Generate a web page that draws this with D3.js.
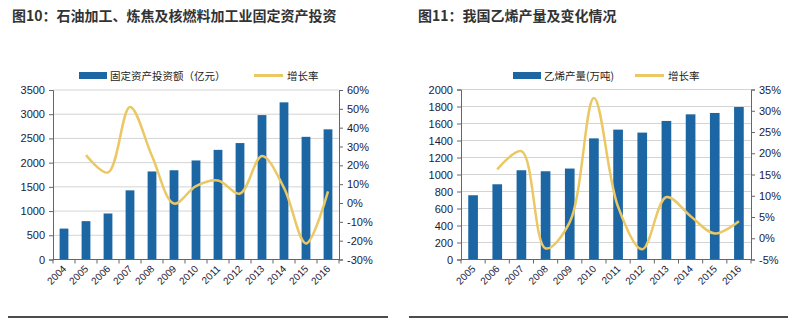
<!DOCTYPE html>
<html>
<head>
<meta charset="utf-8">
<script src="https://cdn.jsdelivr.net/npm/d3@7"></script>
<style>
  body { margin: 0; background: #fff; }
  svg { display: block; }
  text { font-family: "Liberation Sans", Arial, sans-serif; }
  .cjk { font-family: "Noto Sans CJK SC", sans-serif; }
</style>
</head>
<body>
<svg width="800" height="322"></svg>
<script>

// chart 10 - investment
var years10 = ["2004","2005","2006","2007","2008","2009","2010","2011","2012","2013","2014","2015","2016"]
var invest10 = [638, 792, 950, 1428, 1818, 1843, 2045, 2264, 2404, 2982, 3245, 2533, 2688]
var growth10 = [null, 25.4, 16.2, 51, 25, -0.3, 9, 12, 5, 25, 8, -21.5, 6.2]
var leftTicks10 = [0,500,1000,1500,2000,2500,3000,3500]
var rightTicks10 = [-30,-20,-10,0,10,20,30,40,50,60]

// chart 11 - ethylene
var years11 = ["2005","2006","2007","2008","2009","2010","2011","2012","2013","2014","2015","2016"]
var output11 = [756, 885, 1050, 1038, 1070, 1425, 1528, 1493, 1630, 1708, 1724, 1794]
var growth11 = [null, 16.2, 20.5, -2.4, 3.8, 33, 7.4, -2.6, 9.7, 5.2, 1.1, 4]
var leftTicks11 = [0,200,400,600,800,1000,1200,1400,1600,1800,2000]
var rightTicks11 = [-5,0,5,10,15,20,25,30,35]

var svg = d3.select('svg')

var blue = "#1c67a3"
var gold = "#ebc864"

var drawChart = function(c){
  var g = svg.append('g')

  // title
  g.append('text')
    .attr('class','cjk')
    .attr('x', c.titleX).attr('y', 21)
    .attr('font-size', 14).attr('font-weight','bold')
    .attr('fill','#333')
    .text(c.title)

  var xScale = d3.scaleBand()
                 .domain(c.years)
                 .range([c.x0, c.x1])
                 .paddingInner(0.6)
                 .paddingOuter(0.3)

  var yL = d3.scaleLinear().domain(c.leftDomain).range([c.yBottom, c.yTop])
  var yR = d3.scaleLinear().domain(c.rightDomain).range([c.yBottom, c.yTop])

  // gridlines
  g.selectAll('.grid')
    .data(c.leftTicks.slice(1))
    .enter().append('line')
    .attr('x1', c.x0).attr('x2', c.x1)
    .attr('y1', function(d){return yL(d)})
    .attr('y2', function(d){return yL(d)})
    .attr('stroke','#d4d4d4').attr('stroke-width',1)

  // bars
  g.selectAll('.bar')
    .data(c.bars)
    .enter().append('rect')
    .attr('x', function(d,i){return xScale(c.years[i])})
    .attr('y', function(d){return yL(d)})
    .attr('width', xScale.bandwidth())
    .attr('height', function(d){return c.yBottom - yL(d)})
    .attr('fill', blue)

  // growth line
  var pts = c.growth.map(function(d,i){return [xScale(c.years[i]) + xScale.bandwidth()/2, d]})
                    .filter(function(p){return p[1] != null})
  var line = d3.line()
               .x(function(p){return p[0]})
               .y(function(p){return yR(p[1])})
               .curve(d3.curveCatmullRom.alpha(0.5))
  g.append('path')
    .attr('d', line(pts))
    .attr('fill','none')
    .attr('stroke', gold)
    .attr('stroke-width', 2.5)

  // left axis
  var leftAxis = d3.axisLeft(yL).tickValues(c.leftTicks).tickSize(4).tickPadding(4)
                   .tickFormat(d3.format('d'))
  var la = g.append('g').attr('transform','translate(' + c.x0 + ',0)').call(leftAxis)
  la.select('.domain').attr('stroke','#666')
  la.selectAll('.tick line').attr('stroke','#666')
  la.selectAll('text').attr('font-size', 11).attr('fill','#1a1a3a').attr('font-family','"Liberation Sans", Arial, sans-serif')

  // right axis
  var rightAxis = d3.axisRight(yR).tickValues(c.rightTicks).tickSize(4).tickPadding(4)
                    .tickFormat(function(d){return d + '%'})
  var ra = g.append('g').attr('transform','translate(' + c.x1 + ',0)').call(rightAxis)
  ra.select('.domain').attr('stroke','#666')
  ra.selectAll('.tick line').attr('stroke','#666')
  ra.selectAll('text').attr('font-size', 11).attr('fill','#1a1a3a').attr('font-family','"Liberation Sans", Arial, sans-serif')

  // x axis line + ticks between categories
  g.append('line')
    .attr('x1', c.x0).attr('x2', c.x1)
    .attr('y1', c.yBottom).attr('y2', c.yBottom)
    .attr('stroke','#666')
  var bounds = d3.range(c.years.length + 1).map(function(i){return c.x0 + i * (c.x1 - c.x0) / c.years.length})
  g.selectAll('.xtick')
    .data(bounds)
    .enter().append('line')
    .attr('x1', function(d){return d}).attr('x2', function(d){return d})
    .attr('y1', c.yBottom).attr('y2', c.yBottom + 4)
    .attr('stroke','#666')

  g.selectAll('.xlab')
    .data(c.years)
    .enter().append('text')
    .attr('transform', function(d){
      var x = xScale(d) + xScale.bandwidth()/2 + 3
      return 'translate(' + x + ',' + (c.yBottom + 10) + ') rotate(-45)'
    })
    .attr('text-anchor','end')
    .attr('font-size', 10)
    .attr('fill','#1a1a3a')
    .text(function(d){return d})

  // legend
  g.append('rect')
    .attr('x', c.legBarX).attr('y', 72).attr('width', 28).attr('height', 7)
    .attr('fill', blue)
  g.append('text')
    .attr('class','cjk')
    .attr('x', c.legBarX + 31).attr('y', 80)
    .attr('font-size', 10.5).attr('fill','#222')
    .text(c.barName)
  g.append('line')
    .attr('x1', c.legLineX).attr('x2', c.legLineX + 29)
    .attr('y1', 75.5).attr('y2', 75.5)
    .attr('stroke', gold).attr('stroke-width', 3)
  g.append('text')
    .attr('class','cjk')
    .attr('x', c.legLineX + 33).attr('y', 80)
    .attr('font-size', 10.5).attr('fill','#222')
    .text('增长率')

  // bottom rule
  g.append('line')
    .attr('x1', c.ruleX0).attr('x2', c.ruleX1)
    .attr('y1', 317).attr('y2', 317)
    .attr('stroke','#111').attr('stroke-width', 1.5)
}

drawChart({
  title: '图10：石油加工、炼焦及核燃料加工业固定资产投资',
  titleX: 12,
  years: years10, bars: invest10, growth: growth10,
  leftTicks: leftTicks10, rightTicks: rightTicks10,
  leftDomain: [0, 3500], rightDomain: [-30, 60],
  x0: 53, x1: 339, yTop: 90, yBottom: 259.5,
  barName: '固定资产投资额（亿元）',
  legBarX: 79, legLineX: 254,
  ruleX0: 8, ruleX1: 388
})

drawChart({
  title: '图11：我国乙烯产量及变化情况',
  titleX: 418,
  years: years11, bars: output11, growth: growth11,
  leftTicks: leftTicks11, rightTicks: rightTicks11,
  leftDomain: [0, 2000], rightDomain: [-5, 35],
  x0: 461, x1: 751, yTop: 89.5, yBottom: 259.5,
  barName: '乙烯产量(万吨)',
  legBarX: 513, legLineX: 635,
  ruleX0: 409, ruleX1: 788
})

</script>
</body>
</html>
